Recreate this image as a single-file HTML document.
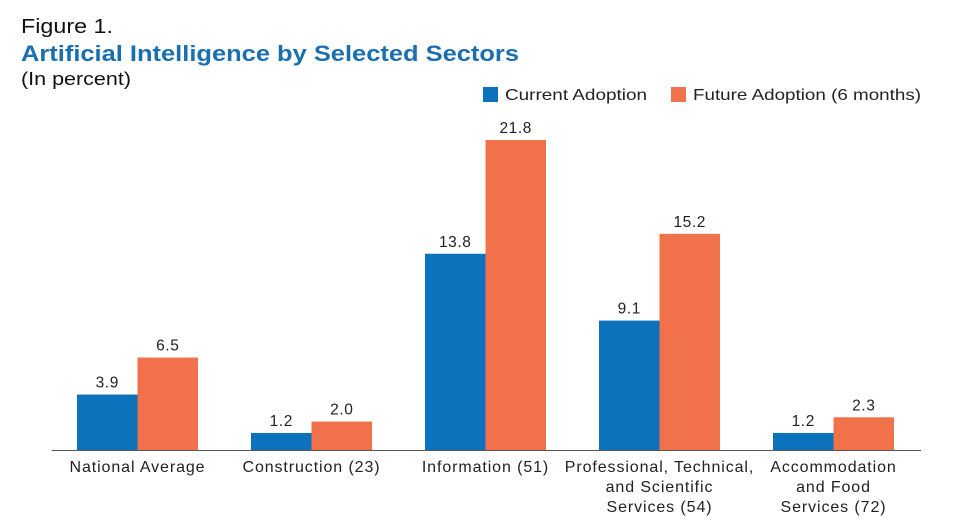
<!DOCTYPE html>
<html><head><meta charset="utf-8"><style>
html,body{margin:0;padding:0;background:#fff;width:973px;height:525px;overflow:hidden}
svg{display:block;font-family:"Liberation Sans",sans-serif}
</style></head><body>
<svg id="chart" width="973" height="525" viewBox="0 0 973 525">
<text x="21" y="33" font-size="20" fill="#111" textLength="92" lengthAdjust="spacingAndGlyphs">Figure 1.</text>
<text x="21" y="61" font-size="22.5" font-weight="bold" fill="#1a6fb0" textLength="498" lengthAdjust="spacingAndGlyphs">Artificial Intelligence by Selected Sectors</text>
<text x="21" y="85" font-size="18" fill="#111" textLength="110" lengthAdjust="spacingAndGlyphs">(In percent)</text>
<rect x="483" y="87" width="15" height="15" fill="#0b72bb"/>
<text x="505" y="100" font-size="16" fill="#222" textLength="142" lengthAdjust="spacingAndGlyphs">Current Adoption</text>
<rect x="671" y="87" width="15" height="15" fill="#f0714a"/>
<text x="693" y="100" font-size="16" fill="#222" textLength="228" lengthAdjust="spacingAndGlyphs">Future Adoption (6 months)</text>
<g id="bars"></g>
<line x1="52" y1="450.5" x2="921" y2="450.5" stroke="#555" stroke-width="1"/>
<g id="labels"></g>
</svg>
<script>
const categories = [["National Average"],["Construction (23)"],["Information (51)"],["Professional, Technical,","and Scientific","Services (54)"],["Accommodation","and Food","Services (72)"]];
const currentValues = [3.9, 1.2, 13.8, 9.1, 1.2];
const futureValues = [6.5, 2.0, 21.8, 15.2, 2.3];
const NS="http://www.w3.org/2000/svg";
const baseY=450, scale=310/21.8, x0=77, step=174, bw=60.5;
const y=v=>baseY-v*scale;
const bars=document.getElementById('bars'), labels=document.getElementById('labels');
function mk(tag,attrs,parent){const e=document.createElementNS(NS,tag);for(const k in attrs)e.setAttribute(k,attrs[k]);parent.appendChild(e);return e;}
categories.forEach((cat,i)=>{
  const gx=x0+i*step;
  [[currentValues[i],'#0b72bb','current'],[futureValues[i],'#f0714a','future']].forEach(([v,c,s],j)=>{
    const bx=gx+j*bw;
    const r=mk('rect',{x:bx,y:y(v),width:bw,height:v*scale,fill:c},bars);
    
    
    const t=mk('text',{x:bx+bw/2,y:y(v)-7,'font-size':15.5,'letter-spacing':0.6,'text-anchor':'middle',fill:'#222'},labels);
    
    
    t.textContent=v.toFixed(1);
  });
  cat.forEach((line,k)=>{
    const t=mk('text',{x:gx+bw,y:472+k*20,'font-size':16,'letter-spacing':0.9,'text-anchor':'middle',fill:'#222'},labels);
    
    
    t.textContent=line;
  });
});
</script>
</body></html>
